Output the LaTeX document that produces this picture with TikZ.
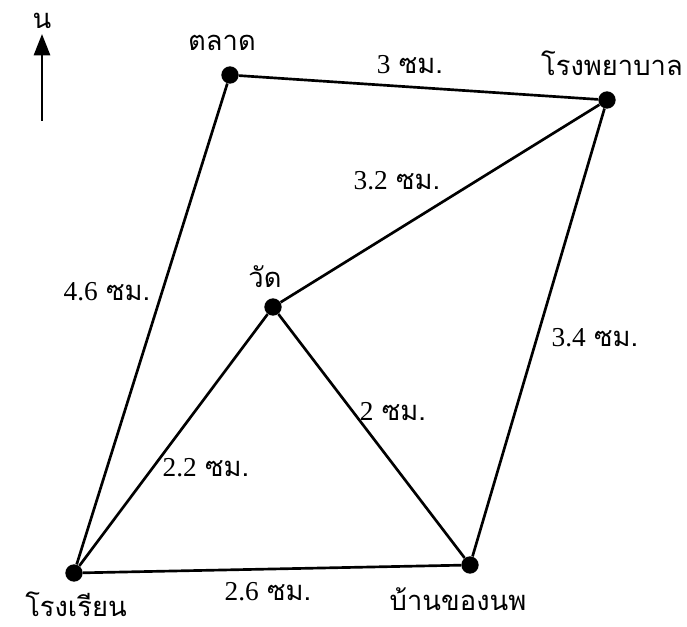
\documentclass[tikz,border=0pt]{standalone}
\usepackage{fontspec}
\newfontfamily\thaifont[Script=Thai]{Loma}
\newfontfamily\numfont{Liberation Serif}
\usetikzlibrary{arrows.meta}
\begin{document}
\begin{tikzpicture}[x=0.75pt,y=-0.75pt,
  pt/.style={circle,fill=black,inner sep=0pt,minimum size=13pt},
  road/.style={line width=2pt},
  place/.style={font=\thaifont\fontsize{20.5}{24}\selectfont,inner sep=0pt},
  dist/.style={font=\fontsize{20.5}{24}\selectfont,inner sep=0pt}]
\useasboundingbox (0,0) rectangle (687,627);
\newcommand{\cm}[1]{{\numfont #1} {\thaifont ซม.}}
\node[pt] (mk) at (230,75) {};
\node[pt] (hp) at (607,100) {};
\node[pt] (wt) at (273,307) {};
\node[pt] (sc) at (74,573) {};
\node[pt] (hm) at (470,565) {};
\draw[road] (mk) -- (hp);
\draw[road] (mk) -- (sc);
\draw[road] (wt) -- (hp);
\draw[road] (hp) -- (hm);
\draw[road] (wt) -- (sc);
\draw[road] (wt) -- (hm);
\draw[road] (sc) -- (hm);
\node[place] (lmk) at (222,43) {ตลาด};
\node[place] (lhp) at (612,63) {โรงพยาบาล};
\node[place] (lwt) at (265,277) {วัด};
\node[place] (lsc) at (76,604) {โรงเรียน};
\node[place] (lhm) at (458,599) {บ้านของนพ};
\node[place] (n) at (42,21) {น};
\coordinate (nb) at (42,121);
\coordinate (nt) at (42,34);
\draw[line width=2.2pt,-{Triangle[length=16pt,width=12pt]}] (nb) -- (nt);
\node[dist] (d1) at (410,65) {\cm{3}};
\node[dist] (d2) at (397,181) {\cm{3.2}};
\node[dist] (d3) at (107,292) {\cm{4.6}};
\node[dist] (d4) at (595,338) {\cm{3.4}};
\node[dist] (d5) at (393,412) {\cm{2}};
\node[dist] (d6) at (206,468) {\cm{2.2}};
\node[dist] (d7) at (268,592) {\cm{2.6}};
\end{tikzpicture}
\end{document}
